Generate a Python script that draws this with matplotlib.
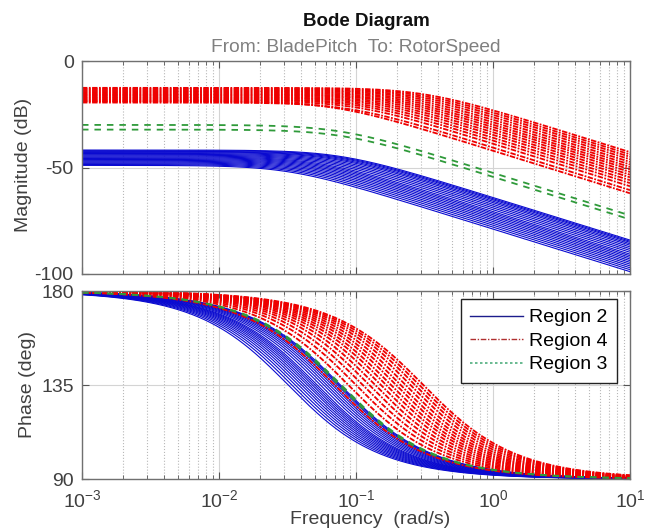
import numpy as np
import matplotlib
matplotlib.use('Agg')
import matplotlib.pyplot as plt
from matplotlib.lines import Line2D
from matplotlib.ticker import LogLocator, NullFormatter

plt.rcParams['font.family'] = ['Liberation Sans', 'DejaVu Sans']
plt.rcParams['mathtext.default'] = 'regular'
plt.rcParams['axes.unicode_minus'] = False

# first order models -K/(s/wc + 1)
# Region 2 (blue): DC gain in dB and corner frequency in rad/s
region2_gain = [-49.0, -48.6, -48.2, -47.8, -47.4, -47.0, -46.6, -46.2, -45.8, -45.4,
                -45.0, -44.6, -44.2, -43.8, -43.4, -43.0, -42.7, -42.4, -42.1, -41.8]
region2_wc = [0.032, 0.034, 0.036, 0.038, 0.040, 0.042, 0.044, 0.046, 0.048, 0.050,
              0.052, 0.055, 0.058, 0.061, 0.064, 0.067, 0.070, 0.073, 0.075, 0.077]
# Region 4 (red)
region4_gain = [-19.0, -19.5, -18.8, -18.3, -17.9, -17.4, -17.0, -16.5, -16.0, -15.6,
                -15.1, -14.6, -14.1, -13.6, -13.1, -12.6]
region4_wc = [0.070, 0.088, 0.100, 0.112, 0.125, 0.138, 0.152, 0.166, 0.180, 0.196,
              0.212, 0.230, 0.250, 0.270, 0.290, 0.310]
# Region 3 (green)
region3_gain = [-30.0, -32.2]
region3_wc = [0.075, 0.078]

legend_labels = ['Region 2', 'Region 4', 'Region 3']

w = np.logspace(-3, 1, 500)

def bode(gain, wc):
    mag = gain - 10 * np.log10(1 + (w / wc) ** 2)
    ph = 180 - np.degrees(np.arctan(w / wc))
    return mag, ph

fig = plt.figure(figsize=(6.45, 5.29), dpi=100)
W, H = 645.0, 529.0
ax1 = fig.add_axes([82 / W, 1 - 274 / H, 548 / W, 213 / H])
ax2 = fig.add_axes([82 / W, 1 - 479 / H, 548 / W, 188 / H])

blue = '#0a0ad0'
red = '#ee0000'
green = '#2f9a3a'

for g, wc in zip(region2_gain, region2_wc):
    m, p = bode(g, wc)
    ax1.plot(w, m, color=blue, lw=0.8)
    ax2.plot(w, p, color=blue, lw=0.8)
for g, wc in zip(region4_gain, region4_wc):
    m, p = bode(g, wc)
    ax1.plot(w, m, color=red, lw=1.3, dashes=(3.0, 0.8, 1.0, 0.8))
    ax2.plot(w, p, color=red, lw=1.3, dashes=(3.0, 0.8, 1.0, 0.8))
for g, wc in zip(region3_gain, region3_wc):
    m, p = bode(g, wc)
    ax1.plot(w, m, color=green, lw=1.3, dashes=(3.6, 3.3))
    ax2.plot(w, p, color=green, lw=1.3, dashes=(3.6, 3.3))

for ax in (ax1, ax2):
    ax.set_xscale('log')
    ax.set_xlim(1e-3, 10)
    ax.xaxis.set_major_locator(LogLocator(base=10, numticks=10))
    ax.xaxis.set_minor_locator(LogLocator(base=10, subs=np.arange(2, 10), numticks=50))
    ax.xaxis.set_minor_formatter(NullFormatter())
    ax.grid(which='major', color='#d4d4d4', ls='-', lw=0.8)
    ax.grid(which='minor', axis='x', color='#b8b8b8', ls=':', lw=0.8)
    ax.set_axisbelow(True)
    ax.tick_params(which='both', direction='in', top=True, right=True,
                   colors='#555555', labelcolor='#404040', labelsize=14)
    ax.tick_params(which='major', length=5)
    ax.tick_params(which='minor', length=3)
    for s in ax.spines.values():
        s.set_color('#707070')
        s.set_linewidth(1.0)

ax1.set_ylim(-100, 0)
ax1.set_yticks([-100, -50, 0])
ax1.tick_params(axis='x', labelbottom=False)
ax1.tick_params(axis='y', pad=6)

ax2.set_ylim(90, 180)
ax2.set_yticks([90, 135, 180])
ax2.tick_params(axis='y', pad=6)
ax2.tick_params(axis='x', pad=7)

# legend samples are drawn thinner and darker in the original
handles = [Line2D([], [], color='#1c1c8c', lw=1.0),
           Line2D([], [], color='#b03030', lw=1.0, dashes=(4, 1.2, 1, 1.2)),
           Line2D([], [], color='#4fae7e', lw=1.2, dashes=(1.5, 1.5))]
leg = ax2.legend(handles, legend_labels,
                 loc='upper right', bbox_to_anchor=(0.976, 0.957), borderaxespad=0,
                 fontsize=14, handlelength=2.7, labelspacing=0.3, fancybox=False,
                 framealpha=1, edgecolor='#222222', borderpad=0.5, handletextpad=0.3)
leg.get_frame().set_linewidth(1.0)

fig.text(366 / W, 1 - 22 / H, 'Bode Diagram', ha='center', va='center',
         fontsize=13.5, fontweight='bold', color='#111111')
fig.text(356 / W, 1 - 47 / H, 'From: BladePitch  To: RotorSpeed', ha='center', va='center',
         fontsize=13.8, color='#808080')
fig.text(24 / W, 1 - 165 / H, 'Magnitude (dB)', rotation=90, ha='center', va='center',
         fontsize=14, color='#404040')
fig.text(27 / W, 1 - 384 / H, 'Phase (deg)', rotation=90, ha='center', va='center',
         fontsize=14, color='#404040')
fig.text(370 / W, 1 - 520 / H, 'Frequency  (rad/s)', ha='center', va='center',
         fontsize=14, color='#404040')

fig.savefig('out.png', dpi=100)
